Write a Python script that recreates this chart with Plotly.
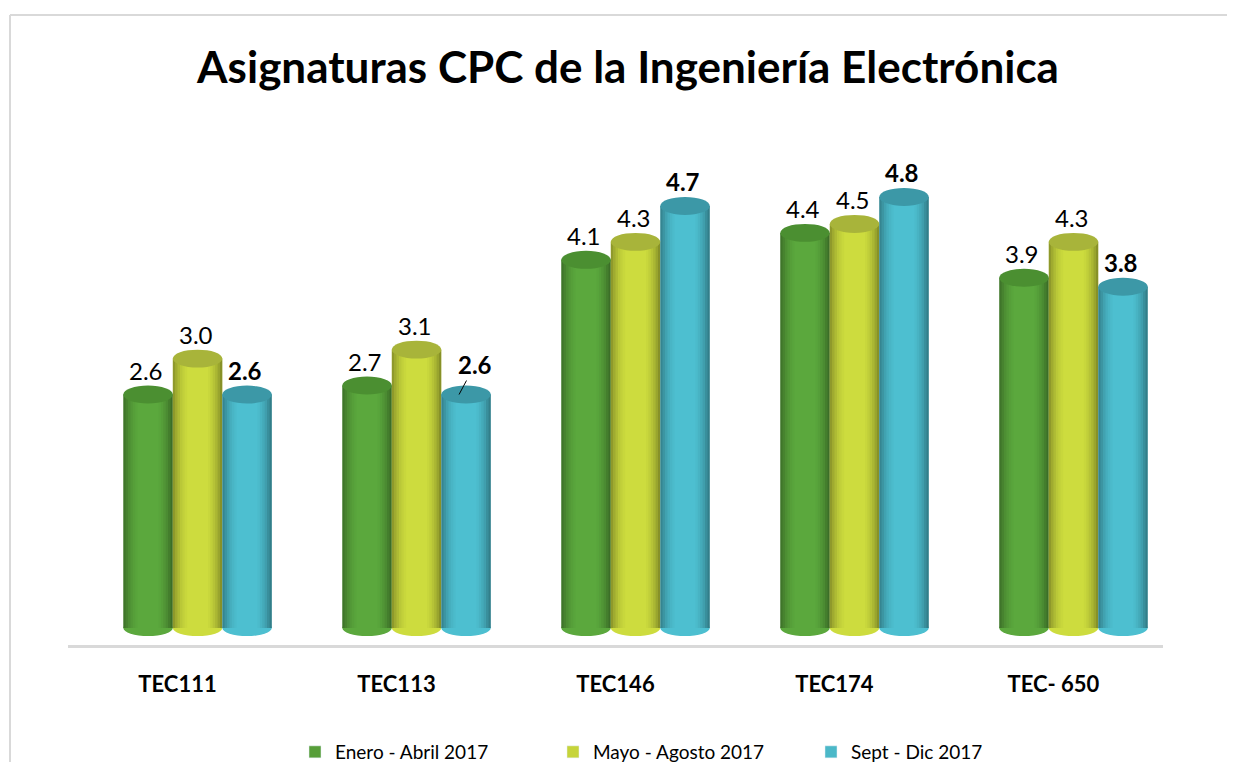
import plotly.graph_objects as go

# data
categories = ["TEC111", "TEC113", "TEC146", "TEC174", "TEC- 650"]
series_names = ["Enero - Abril 2017", "Mayo - Agosto 2017", "Sept - Dic 2017"]
enero = [2.6, 2.7, 4.1, 4.4, 3.9]
mayo = [3.0, 3.1, 4.3, 4.5, 4.3]
sept = [2.6, 2.6, 4.7, 4.8, 3.8]

FONT = "Lato"
body_colors = ["#5ba83d", "#cddc3e", "#4dbfd0"]
top_colors = ["#4b8f31", "#a8b43a", "#3c98a7"]
legend_colors = ["#579e39", "#c6d43a", "#4bb8c8"]

bar_w = 0.226
offsets = [-0.339, -0.113, 0.113]
ry = 0.1  # half height of the cylinder caps, in data units

fig = go.Figure()
shapes = []
annotations = []

for k, vals in enumerate([enero, mayo, sept]):
    fig.add_trace(go.Bar(
        x=categories, y=vals, name=series_names[k],
        width=bar_w, offset=offsets[k],
        marker=dict(color=body_colors[k], line=dict(width=0)),
        showlegend=False, hoverinfo="x+y",
    ))
    # shading strips to fake the round side of a cylinder
    n = 6
    sw = 0.011
    left_a = [0.30, 0.22, 0.15, 0.09, 0.05, 0.02]
    right_a = [0.02, 0.06, 0.11, 0.17, 0.25, 0.34]
    for j in range(n):
        fig.add_trace(go.Bar(
            x=categories, y=vals, width=sw, offset=offsets[k] + j * sw,
            marker=dict(color=f"rgba(0,0,0,{left_a[j]})", line=dict(width=0)),
            showlegend=False, hoverinfo="skip",
        ))
        fig.add_trace(go.Bar(
            x=categories, y=vals, width=sw,
            offset=offsets[k] + bar_w - (n - j) * sw,
            marker=dict(color=f"rgba(0,0,0,{right_a[j]})", line=dict(width=0)),
            showlegend=False, hoverinfo="skip",
        ))
    # legend entry
    fig.add_trace(go.Bar(
        x=[categories[0]], y=[None], name=series_names[k],
        marker=dict(color=legend_colors[k]), showlegend=True, hoverinfo="skip",
    ))
    for i, v in enumerate(vals):
        x0 = i + offsets[k]
        x1 = x0 + bar_w
        shapes.append(dict(type="circle", xref="x", yref="y", x0=x0, x1=x1,
                           y0=v - ry, y1=v + ry, fillcolor=top_colors[k],
                           line=dict(width=0), layer="above"))
        shapes.append(dict(type="circle", xref="x", yref="y", x0=x0, x1=x1,
                           y0=-0.09, y1=0.09, fillcolor=body_colors[k],
                           line=dict(width=0), layer="below"))
        bold = k == 2
        ann = dict(x=(x0 + x1) / 2, y=v, xref="x", yref="y", text=f"{v:.1f}",
                   showarrow=False, yshift=24, xshift=-2,
                   font=dict(family=FONT, size=24, color="#000000",
                             weight="bold" if bold else "normal"))
        if bold and i == 1:
            # label pushed aside with a small leader line, as in the original
            ann.update(showarrow=True, arrowhead=0, arrowwidth=1, arrowcolor="#000000",
                       ax=16, ay=-30, yshift=0, xshift=-7)
        annotations.append(ann)

# axis that carries the category labels and the floor line
fig.add_trace(go.Scatter(x=categories, y=[None] * len(categories), xaxis="x2",
                         showlegend=False, hoverinfo="skip"))

# chart border (only the top and left edges are inside the picture)
shapes.append(dict(type="line", xref="paper", yref="paper",
                   x0=-0.052, x1=1.06, y0=1.2, y1=1.2,
                   line=dict(color="#d9d9d9", width=2), layer="above"))
shapes.append(dict(type="line", xref="paper", yref="paper",
                   x0=-0.052, x1=-0.052, y0=-0.24, y1=1.2,
                   line=dict(color="#d9d9d9", width=2), layer="above"))

fig.update_layout(
    width=1227, height=754,
    paper_bgcolor="white", plot_bgcolor="rgba(0,0,0,0)",
    barmode="overlay",
    margin=dict(l=60, r=52, t=112, b=117, autoexpand=False),
    title=dict(text="<b>Asignaturas CPC de la Ingeniería Electrónica</b>",
               x=0.5053, xanchor="center", y=0.9204, yanchor="middle",
               font=dict(family=FONT, size=44, color="#000000")),
    xaxis=dict(domain=[0.018, 1], range=[-0.5, 4.5], visible=False),
    xaxis2=dict(domain=[0, 0.982], range=[-0.5, 4.5], anchor="y",
                showline=True, linecolor="#d9d9d9", linewidth=2.5,
                showgrid=False, ticks="", ticklabelstandoff=18,
                tickfont=dict(family=FONT, size=22, color="#000000", weight="bold")),
    yaxis=dict(range=[-0.189, 5.657], visible=False),
    legend=dict(orientation="h", x=0.2036, xanchor="left", y=-0.2038, yanchor="middle",
                entrywidth=213, font=dict(family=FONT, size=19, color="#000000"),
                traceorder="normal"),
    shapes=shapes,
    annotations=annotations,
    font=dict(family=FONT),
)

fig.write_html("out.html")
